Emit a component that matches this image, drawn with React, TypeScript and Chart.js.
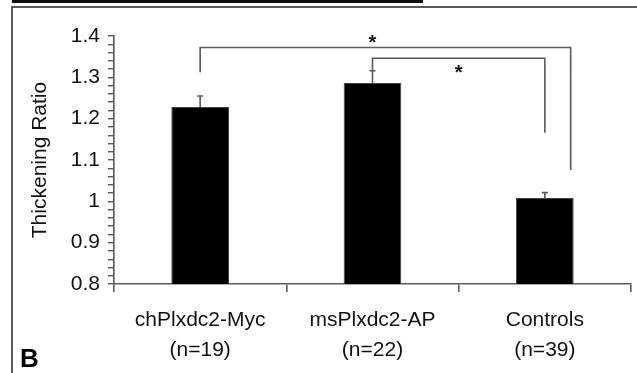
import React, { useEffect, useRef } from "react";
import { Chart, registerables } from "chart.js";

Chart.register(...registerables);

// ---- data ----
const categories: string[][] = [
  ["chPlxdc2-Myc", "(n=19)"],
  ["msPlxdc2-AP", "(n=22)"],
  ["Controls", "(n=39)"],
];
const means: number[] = [1.228, 1.286, 1.008];
const errors: number[] = [0.027, 0.03, 0.013];
const yTickLabels: string[] = ["0.8", "0.9", "1", "1.1", "1.2", "1.3", "1.4"];

// significance brackets (category positions / values)
const bracketFrom: number[] = [0, 1];
const bracketTo: number[] = [2.15, 2];
const bracketTop: number[] = [1.372, 1.346];
const bracketLeftEnd: number[] = [1.312, 1.318];
const bracketRightEnd: number[] = [1.076, 1.166];
const starX: number[] = [1, 1.5];
const starY: number[] = [1.397, 1.323];
const starText: string[] = ["*", "*"];
const panelLabel = "B";

const FONT = "'Liberation Sans', Arial, sans-serif";
const GRAY = "#5a5a5a";

const decorPlugin = {
  id: "decor",
  beforeDraw(chart: any) {
    const ctx = chart.ctx;
    ctx.save();
    // top black rule
    ctx.fillStyle = "#111";
    ctx.fillRect(12, 0, 411, 3);
    // frame
    ctx.strokeStyle = GRAY;
    ctx.lineWidth = 2;
    ctx.beginPath();
    ctx.moveTo(12, 373);
    ctx.lineTo(12, 7);
    ctx.lineTo(637, 7);
    ctx.stroke();
    // panel label
    ctx.fillStyle = "#000";
    ctx.font = `bold 26px ${FONT}`;
    ctx.textAlign = "left";
    ctx.textBaseline = "alphabetic";
    ctx.fillText(panelLabel, 20, 367);
    ctx.restore();
  },
  afterDatasetsDraw(chart: any) {
    const ctx = chart.ctx;
    const xs = chart.scales.x;
    const ys = chart.scales.y;
    ctx.save();
    ctx.strokeStyle = GRAY;
    ctx.lineWidth = 1.6;
    // error bars
    means.forEach((m, i) => {
      const x = xs.getPixelForValue(i);
      const y0 = ys.getPixelForValue(m);
      const y1 = ys.getPixelForValue(m + errors[i]);
      ctx.beginPath();
      ctx.moveTo(x, y0);
      ctx.lineTo(x, y1);
      ctx.moveTo(x - 3, y1);
      ctx.lineTo(x + 3, y1);
      ctx.stroke();
    });
    // brackets
    bracketFrom.forEach((f, i) => {
      const xl = xs.getPixelForValue(f);
      const xr = xs.getPixelForValue(bracketTo[i]);
      const yt = ys.getPixelForValue(bracketTop[i]);
      const yl = ys.getPixelForValue(bracketLeftEnd[i]);
      const yr = ys.getPixelForValue(bracketRightEnd[i]);
      ctx.beginPath();
      ctx.moveTo(xl, yl);
      ctx.lineTo(xl, yt);
      ctx.lineTo(xr, yt);
      ctx.lineTo(xr, yr);
      ctx.stroke();
    });
    // stars
    ctx.fillStyle = "#111";
    ctx.font = `bold 20px ${FONT}`;
    ctx.textAlign = "center";
    ctx.textBaseline = "alphabetic";
    starX.forEach((sx, i) => {
      const x = xs.getPixelForValue(sx);
      const y = ys.getPixelForValue(starY[i]);
      ctx.fillText(starText[i], x, y + 0.58 * 20);
    });
    ctx.restore();
  },
};

export default function App() {
  const ref = useRef<HTMLCanvasElement | null>(null);
  useEffect(() => {
    document.body.style.margin = "0";
    const canvas = ref.current;
    if (!canvas) return;
    const chart = new Chart(canvas, {
      type: "bar",
      data: {
        labels: categories,
        datasets: [
          {
            data: means,
            backgroundColor: "#000",
            borderColor: "#444",
            borderWidth: 1,
            barPercentage: 0.335,
            categoryPercentage: 1,
          },
        ],
      },
      options: {
        responsive: false,
        animation: false,
        devicePixelRatio: 1,
        layout: { padding: { left: 0, right: 6, top: 36, bottom: 0 } },
        plugins: {
          legend: { display: false },
          tooltip: { enabled: false },
        },
        scales: {
          x: {
            offset: true,
            grid: {
              offset: true,
              drawOnChartArea: false,
              drawTicks: true,
              tickLength: 8,
              color: GRAY,
              lineWidth: 1.6,
            },
            border: { display: true, color: GRAY, width: 1.6 },
            ticks: {
              color: "#111",
              font: { family: FONT, size: 21, lineHeight: 1.4 },
              padding: 14,
              maxRotation: 0,
              autoSkip: false,
            },
            afterFit(scale: any) {
              scale.height = 89;
            },
          },
          y: {
            min: 0.8,
            max: 1.4,
            grid: {
              drawOnChartArea: false,
              drawTicks: true,
              tickLength: 6,
              color: GRAY,
              lineWidth: 1.4,
            },
            border: { display: true, color: GRAY, width: 1.6 },
            ticks: {
              stepSize: 0.02,
              autoSkip: false,
              color: "#111",
              font: { family: FONT, size: 21 },
              padding: 8,
              callback: (v: any) => {
                const k = Math.round((Number(v) - 0.8) * 50);
                return k % 5 === 0 ? yTickLabels[k / 5] ?? "" : "";
              },
            },
            title: {
              display: true,
              text: "Thickening Ratio",
              color: "#111",
              font: { family: FONT, size: 21 },
              padding: { top: 28, bottom: 0 },
            },
            afterFit(scale: any) {
              scale.width = 114;
            },
          },
        },
      },
      plugins: [decorPlugin],
    });
    return () => chart.destroy();
  }, []);
  return (
    <div style={{ width: 637, height: 373, position: "relative" }}>
      <canvas ref={ref} width={637} height={373} />
    </div>
  );
}
